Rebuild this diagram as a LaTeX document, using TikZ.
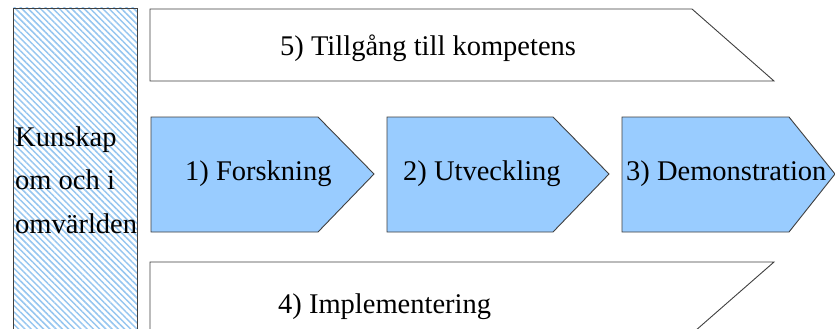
\documentclass[tikz,border=0pt]{standalone}
\usepackage{fontspec}
\setmainfont{Liberation Serif}
\usetikzlibrary{patterns.meta}
\definecolor{edge}{RGB}{64,64,64}
\definecolor{stepblue}{RGB}{153,204,255}
\definecolor{hatchblue}{RGB}{150,198,240}
\tikzset{
  outline/.style={draw=edge, line width=0.9pt, line join=miter},
  phase/.style={outline, fill=stepblue},
  band/.style={outline, fill=white},
  label/.style={inner sep=0pt, anchor=base west, font=\fontsize{28.5}{43.5}\selectfont},
}
\begin{document}
\begin{tikzpicture}[x=1pt, y=-1pt]
\useasboundingbox (0,0) rectangle (835,329);
\clip (0,0) rectangle (835,329);
\fill[white] (0,0) rectangle (835,329);

% knowledge column on the left
\draw[outline, pattern={Lines[angle=-45, distance=4.4pt, line width=1.5pt]},
      pattern color=hatchblue] (13,8) rectangle (137,345);

% top band: access to competence
\draw[band] (150,9) -- (692,9) -- (774,81) -- (150,81) -- cycle;

% the three phase arrows
\draw[phase] (151,117) -- (318,117) -- (374,174) -- (318,232) -- (151,232) -- cycle;
\draw[phase] (387,117) -- (553,117) -- (609,174) -- (553,232) -- (387,232) -- cycle;
\draw[phase] (622,117) -- (789,117) -- (835,174) -- (789,232) -- (622,232) -- cycle;

% bottom band: implementation
\draw[band] (150,345) -- (150,262) -- (774,262) -- (679,345) -- cycle;

% labels
\node[label] (k1) at (15,146) {Kunskap};
\node[label] (k2) at (15,189.5) {om och i};
\node[label] (k3) at (15,233) {omvärlden};
\node[label] (t5) at (280,56) {5) Tillgång till kompetens};
\node[label] (t1) at (185,180) {1) Forskning};
\node[label] (t2) at (403,180) {2) Utveckling};
\node[label] (t3) at (626,180) {3) Demonstration};
\node[label] (t4) at (278,313) {4) Implementering};
\end{tikzpicture}
\end{document}
